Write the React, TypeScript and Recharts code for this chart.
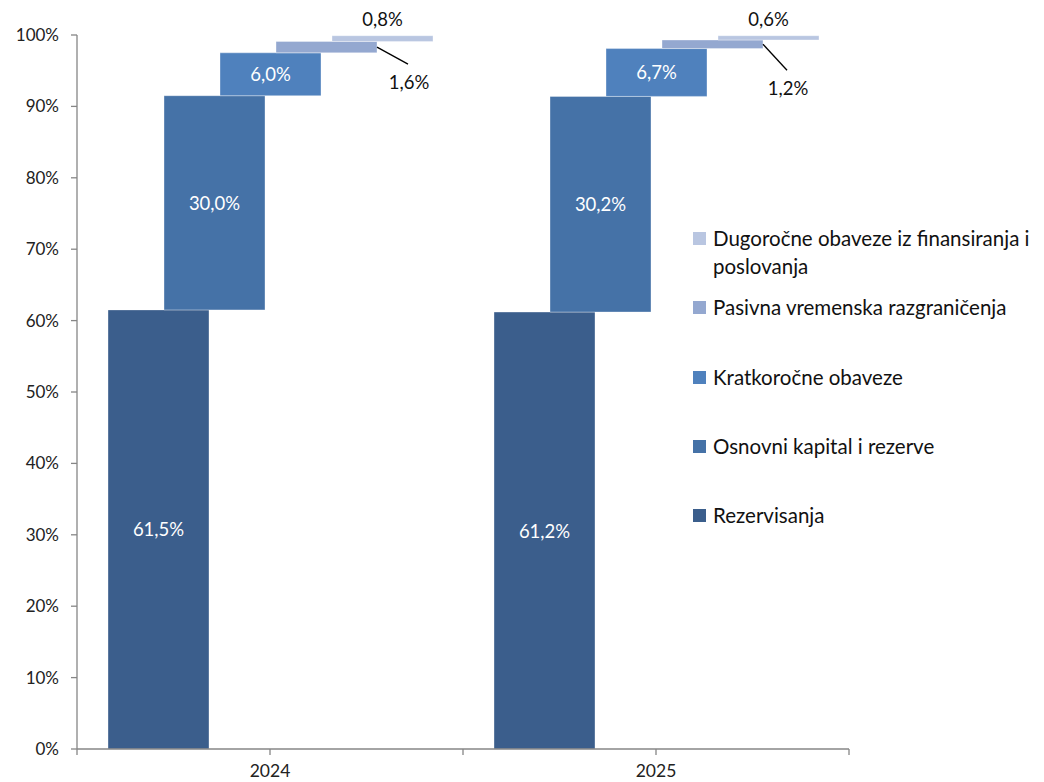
import { BarChart, Bar, XAxis, YAxis, LabelList } from 'recharts';

const categories = ['2024', '2025'];
const seriesNames = [
  'Rezervisanja',
  'Osnovni kapital i rezerve',
  'Kratkoročne obaveze',
  'Pasivna vremenska razgraničenja',
  'Dugoročne obaveze iz finansiranja i poslovanja',
];
const rezervisanja = [61.5, 61.2];
const osnovniKapital = [30.0, 30.2];
const kratkorocne = [6.0, 6.7];
const pasivna = [1.6, 1.2];
const dugorocne = [0.8, 0.6];
const yTicks = [0, 10, 20, 30, 40, 50, 60, 70, 80, 90, 100];

const colors = ['#3B5E8C', '#4572A7', '#4F81BD', '#94A8D0', '#B9C6E1'];
const shares = [rezervisanja, osnovniKapital, kratkorocne, pasivna, dugorocne];

const WIDTH = 1044;
const HEIGHT = 782;
const Y_AXIS_W = 77;
const X_AXIS_H = 33;
const MARGIN = { top: 35, right: 195, bottom: 0, left: 0 };
const BAND = (WIDTH - Y_AXIS_W - MARGIN.right) / categories.length;
const AXIS_Y = HEIGHT - X_AXIS_H;
const FONT = 'Lato, "Open Sans", sans-serif';
const LABEL_SIZE = 18.5;

// floating ranges: each series starts where the previous one ends
const data = categories.map((cat, i) => {
  const row: Record<string, any> = { category: cat };
  let start = 0;
  shares.forEach((s, k) => {
    row[`s${k}`] = [start, start + s[i]];
    start += s[i];
  });
  return row;
});

const fmt = (v: number) => `${v.toFixed(1).replace('.', ',')}%`;

function insideLabel(k: number) {
  return (props: any) => {
    const { x, y, width, height, index } = props;
    return (
      <text
        x={x + width / 2}
        y={y + height / 2}
        textAnchor="middle"
        dominantBaseline="central"
        fill="#ffffff"
        fontSize={LABEL_SIZE}
        fontFamily={FONT}
      >
        {fmt(shares[k][index])}
      </text>
    );
  };
}

// leader line offsets for the small bar labels
const leader = [
  { dx: 31, dy: 17 },
  { dx: 24, dy: 26 },
];

function leaderLabel(props: any) {
  const { x, y, width, height, index } = props;
  const x0 = x + width;
  const y0 = y + height / 2;
  const { dx, dy } = leader[index];
  return (
    <g>
      <line x1={x0} y1={y0} x2={x0 + dx} y2={y0 + dy} stroke="#000" strokeWidth={1.3} />
      <text
        x={x0 + dx + 1}
        y={y0 + dy + 18}
        textAnchor="middle"
        dominantBaseline="central"
        fill="#111"
        fontSize={LABEL_SIZE}
        fontFamily={FONT}
      >
        {fmt(pasivna[index])}
      </text>
    </g>
  );
}

function topLabel(props: any) {
  const { x, y, width, index } = props;
  return (
    <text
      x={x + width / 2}
      y={y - 17}
      textAnchor="middle"
      dominantBaseline="central"
      fill="#111"
      fontSize={LABEL_SIZE}
      fontFamily={FONT}
    >
      {fmt(dugorocne[index])}
    </text>
  );
}

function CategoryTick(props: any) {
  const { x, payload, index } = props;
  const half = BAND / 2;
  return (
    <g>
      <line x1={x} x2={x} y1={AXIS_Y} y2={AXIS_Y + 6} stroke="#868686" strokeWidth={1.3} />
      {index === 0 && (
        <line x1={x - half} x2={x - half} y1={AXIS_Y} y2={AXIS_Y + 6} stroke="#868686" strokeWidth={1.3} />
      )}
      <line x1={x + half} x2={x + half} y1={AXIS_Y} y2={AXIS_Y + 6} stroke="#868686" strokeWidth={1.3} />
      <text x={x} y={AXIS_Y + 28} textAnchor="middle" fill="#222" fontSize={17.5} fontFamily={FONT}>
        {payload.value}
      </text>
    </g>
  );
}

const legendOrder = [4, 3, 2, 1, 0];

export default function App() {
  return (
    <div style={{ position: 'absolute', left: 0, top: 0, width: WIDTH, height: HEIGHT, background: '#fff' }}>
      <BarChart width={WIDTH} height={HEIGHT} data={data} margin={MARGIN} barSize={101} barGap={-45} barCategoryGap={0}>
        <XAxis
          dataKey="category"
          height={X_AXIS_H}
          axisLine={{ stroke: '#868686', strokeWidth: 1.3 }}
          tickLine={false}
          tick={<CategoryTick />}
          interval={0}
        />
        <YAxis
          width={Y_AXIS_W}
          domain={[0, 100]}
          ticks={yTicks}
          tickFormatter={(v) => `${v}%`}
          axisLine={{ stroke: '#868686', strokeWidth: 1.3 }}
          tickLine={{ stroke: '#868686', strokeWidth: 1.3 }}
          tickSize={6}
          tickMargin={12}
          tick={{ fill: '#222', fontSize: 17, fontFamily: FONT }}
        />
        {seriesNames.map((name, k) => (
          <Bar
            key={name}
            name={name}
            dataKey={`s${k}`}
            fill={colors[k]}
            stroke="rgba(255,255,255,0.35)"
            strokeWidth={1}
            isAnimationActive={false}
          >
            {k < 3 && <LabelList dataKey={`s${k}`} content={insideLabel(k)} />}
            {k === 3 && <LabelList dataKey={`s${k}`} content={leaderLabel} />}
            {k === 4 && <LabelList dataKey={`s${k}`} content={topLabel} />}
          </Bar>
        ))}
      </BarChart>
      <div style={{ position: 'absolute', left: 693, top: 224, fontFamily: FONT, fontSize: 20.5, color: '#111' }}>
        {legendOrder.map((k, i) => (
          <div
            key={k}
            style={{ position: 'absolute', top: i * 69.3, left: 0, width: 351, display: 'flex', alignItems: 'flex-start' }}
          >
            <span
              style={{ display: 'inline-block', width: 13, height: 13, background: colors[k], marginTop: 8, marginRight: 7, flex: 'none' }}
            />
            <span style={{ lineHeight: '28px' }}>{seriesNames[k]}</span>
          </div>
        ))}
      </div>
    </div>
  );
}
